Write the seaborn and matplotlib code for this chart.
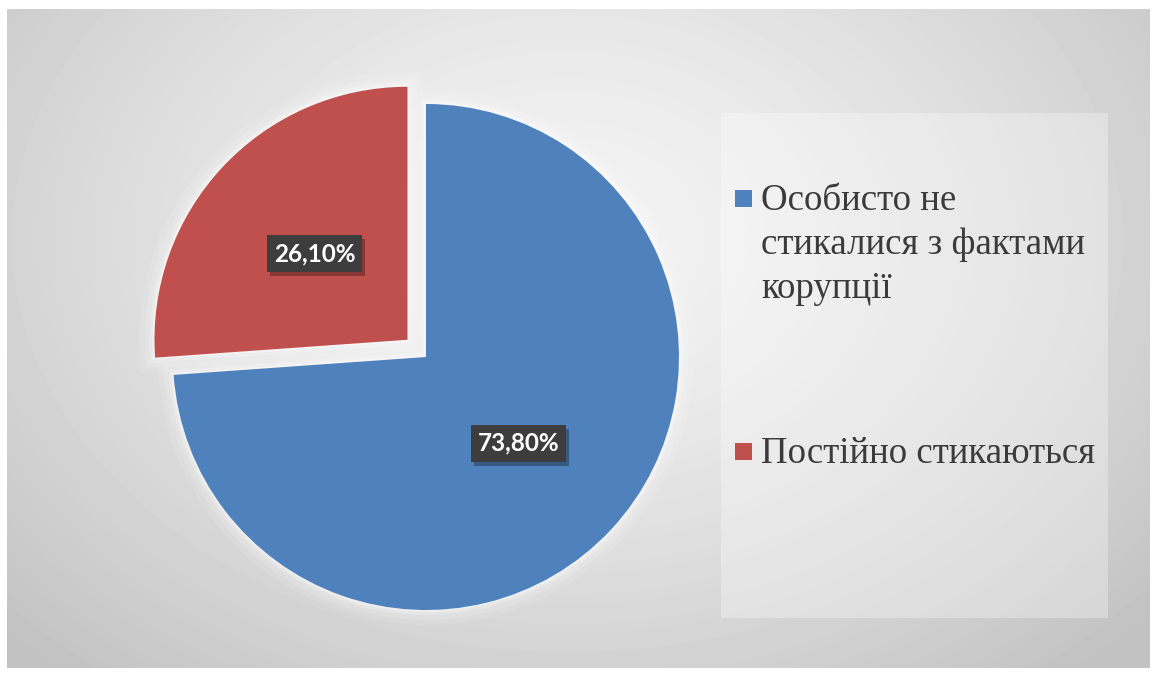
import textwrap
import numpy as np
import matplotlib
matplotlib.use("Agg")
import matplotlib.pyplot as plt
import matplotlib.patheffects as pe
from matplotlib.patches import Rectangle
import seaborn as sns

# Survey answers and their shares (%)
categories = ["Особисто не стикалися з фактами корупції", "Постійно стикаються"]
shares = [73.8, 26.1]
share_labels = ["73,80%", "26,10%"]
colors = ["#4f81bd", "#c0504d"]

sns.set_theme(style="white")
plt.rcParams["font.family"] = ["Liberation Serif", "DejaVu Serif"]

W, H = 1157, 679
fig = plt.figure(figsize=(W / 100, H / 100), dpi=100)
fig.patch.set_facecolor("white")

def fx(px):
    return px / W

def fy(py_top):
    return 1 - py_top / H

# Framed background with a soft radial gradient
left, right, top, bottom = 7, 1150, 9, 668
bg = fig.add_axes([fx(left), fy(bottom), fx(right - left), (bottom - top) / H])
yy, xx = np.mgrid[0:bottom - top, 0:right - left]
cx, cy = 560, 230
d = np.sqrt(((xx - cx) / 700.0) ** 2 + ((yy - cy) / 520.0) ** 2)
shade = np.clip(0.955 - 0.17 * d ** 1.4, 0.76, 0.96)
bg.imshow(shade, cmap="gray", vmin=0, vmax=1, aspect="auto", interpolation="bilinear")
bg.set_axis_off()

# Legend panel
fig.patches.append(Rectangle((fx(721), fy(618)), fx(1108 - 721), (618 - 113) / H,
                             transform=fig.transFigure, facecolor="white", alpha=0.30,
                             edgecolor="none", zorder=1))

# Pie chart
R = 253.0
pcx, pcy = 426, 357
half_w, half_h = 300, 330
ax = fig.add_axes([fx(pcx - half_w), fy(pcy + half_h), fx(2 * half_w), 2 * half_h / H])
ax.set_facecolor("none")
explode = [0, 0.1]

# soft white glow around the wedges
for lw, a in [(22, 0.10), (14, 0.14), (7, 0.22), (3, 0.35)]:
    ax.pie(shares, colors=["white", "white"], startangle=90, counterclock=False,
           explode=explode, wedgeprops=dict(edgecolor="white", linewidth=lw, alpha=a))

wedges, _ = ax.pie(shares, colors=colors, startangle=90, counterclock=False,
                   explode=explode, wedgeprops=dict(edgecolor="none", linewidth=0))

for w, lab in zip(wedges, share_labels):
    ang = np.deg2rad((w.theta1 + w.theta2) / 2)
    cxw, cyw = w.center
    r = 0.5
    tx, ty = cxw + r * np.cos(ang), cyw + r * np.sin(ang)
    t = ax.text(tx, ty, lab, ha="center", va="center", fontsize=17.5, fontweight="bold",
                family=["Lato", "DejaVu Sans"], color="white",
                bbox=dict(boxstyle="square,pad=0.28", facecolor="#3d3d3d", edgecolor="none"))
    t.get_bbox_patch().set_path_effects([
        pe.SimplePatchShadow(offset=(2, -3), shadow_rgbFace="black", alpha=0.3),
        pe.Normal(),
    ])

ax.set_xlim(-half_w / R, half_w / R)
ax.set_ylim(-half_h / R, half_h / R)
ax.set_aspect("auto")
ax.set_axis_off()

# Legend entries
entry_baselines = [210, 463]
line_step = 44
for name, col, base in zip(categories, colors, entry_baselines):
    lines = textwrap.wrap(name, width=19)
    fig.patches.append(Rectangle((fx(735), fy(base - 3)), fx(17), 17 / H,
                                 transform=fig.transFigure, facecolor=col,
                                 edgecolor="none", zorder=3))
    for i, ln in enumerate(lines):
        fig.text(fx(761), fy(base + i * line_step), ln, ha="left", va="baseline",
                 fontsize=26.6, color="#3b3b3b", zorder=4)

fig.savefig("out.png", dpi=100)
